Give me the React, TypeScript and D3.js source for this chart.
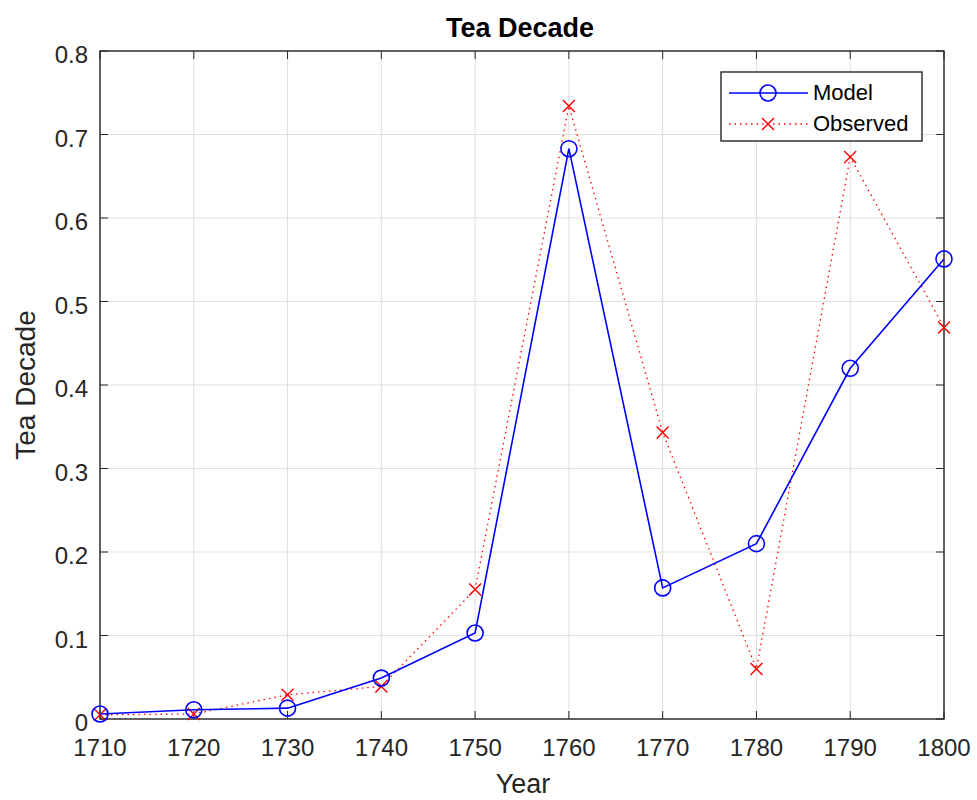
import React from "react";
import * as d3 from "d3";

const years = [1710, 1720, 1730, 1740, 1750, 1760, 1770, 1780, 1790, 1800];
const model = [0.006, 0.011, 0.013, 0.049, 0.103, 0.683, 0.157, 0.21, 0.42, 0.551];
const observed = [0.005, 0.006, 0.029, 0.039, 0.155, 0.734, 0.343, 0.06, 0.673, 0.469];
const yTicks = [0, 0.1, 0.2, 0.3, 0.4, 0.5, 0.6, 0.7, 0.8];
const xTicks = years;

const W = 977, H = 800;
const L = 100, R = 944, T = 51, B = 719;
const FONT = "'Liberation Sans', Arial, Helvetica, sans-serif";

export default function App() {
  const x = d3.scaleLinear().domain([1710, 1800]).range([L, R]);
  const y = d3.scaleLinear().domain([0, 0.8]).range([B, T]);
  const line = d3.line<number>().x((_, i) => x(years[i])).y((d) => y(d));
  const txt = "#262626";
  return (
    <svg width={W} height={H} style={{ position: "absolute", left: 0, top: 0, background: "#fff" }} fontFamily={FONT}>
      <rect x={0} y={0} width={W} height={H} fill="#fff" />
      {xTicks.map((t) => (
        <line key={"gx" + t} x1={x(t)} x2={x(t)} y1={T} y2={B} stroke="#dfdfdf" strokeWidth={1} />
      ))}
      {yTicks.map((t) => (
        <line key={"gy" + t} x1={L} x2={R} y1={y(t)} y2={y(t)} stroke="#dfdfdf" strokeWidth={1} />
      ))}
      {xTicks.map((t) => (
        <g key={"tx" + t}>
          <line x1={x(t)} x2={x(t)} y1={B} y2={B - 8} stroke={txt} strokeWidth={1} />
          <line x1={x(t)} x2={x(t)} y1={T} y2={T + 8} stroke={txt} strokeWidth={1} />
          <text x={x(t)} y={B + 37} textAnchor="middle" fontSize={24} fill={txt}>{t}</text>
        </g>
      ))}
      {yTicks.map((t) => (
        <g key={"ty" + t}>
          <line x1={L} x2={L + 8} y1={y(t)} y2={y(t)} stroke={txt} strokeWidth={1} />
          <line x1={R} x2={R - 8} y1={y(t)} y2={y(t)} stroke={txt} strokeWidth={1} />
          <text x={L - 12} y={y(t) + 12} textAnchor="end" fontSize={24} fill={txt}>{t === 0 ? "0" : t.toFixed(1)}</text>
        </g>
      ))}
      <rect x={L} y={T} width={R - L} height={B - T} fill="none" stroke={txt} strokeWidth={1.4} />

      <path d={line(observed) || ""} fill="none" stroke="#ff0000" strokeWidth={1.3} strokeDasharray="1.5 4" />
      {observed.map((v, i) => (
        <g key={"o" + i} stroke="#ff0000" strokeWidth={1.4}>
          <line x1={x(years[i]) - 6} x2={x(years[i]) + 6} y1={y(v) - 6} y2={y(v) + 6} />
          <line x1={x(years[i]) - 6} x2={x(years[i]) + 6} y1={y(v) + 6} y2={y(v) - 6} />
        </g>
      ))}
      <path d={line(model) || ""} fill="none" stroke="#0000ff" strokeWidth={1.6} />
      {model.map((v, i) => (
        <circle key={"m" + i} cx={x(years[i])} cy={y(v)} r={8} fill="none" stroke="#0000ff" strokeWidth={1.6} />
      ))}

      <text x={520} y={37} textAnchor="middle" fontSize={27} fontWeight="bold" fill="#000">Tea Decade</text>
      <text x={523} y={793} textAnchor="middle" fontSize={27} fill={txt}>Year</text>
      <text transform={`translate(35,${(T + B) / 2}) rotate(-90)`} textAnchor="middle" fontSize={28} fill={txt}>Tea Decade</text>

      <g>
        <rect x={721} y={72} width={201} height={69} fill="#fff" stroke={txt} strokeWidth={1.4} />
        <line x1={729} x2={808} y1={93} y2={93} stroke="#0000ff" strokeWidth={1.6} />
        <circle cx={768} cy={93} r={8} fill="none" stroke="#0000ff" strokeWidth={1.6} />
        <text x={813} y={100} fontSize={22} fill="#000">Model</text>
        <line x1={729} x2={808} y1={124} y2={124} stroke="#ff0000" strokeWidth={1.3} strokeDasharray="1.5 4" />
        <g stroke="#ff0000" strokeWidth={1.4}>
          <line x1={762} x2={774} y1={118} y2={130} />
          <line x1={762} x2={774} y1={130} y2={118} />
        </g>
        <text x={813} y={131} fontSize={22} fill="#000">Observed</text>
      </g>
    </svg>
  );
}
